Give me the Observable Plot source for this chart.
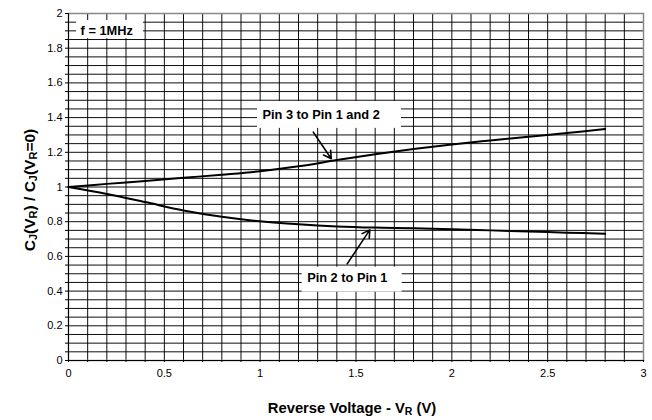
<!DOCTYPE html>
<html>
<head>
<meta charset="utf-8">
<script src="https://cdn.jsdelivr.net/npm/d3@7"></script>
<script src="https://cdn.jsdelivr.net/npm/@observablehq/plot@0.6"></script>
<style>
  html, body { margin: 0; padding: 0; background: #fff; }
  #chart { width: 652px; height: 420px; }
</style>
</head>
<body>
<div id="chart"></div>
<script>
// Data
const voltage = [0, 0.2, 0.4, 0.6, 0.8, 1.0, 1.2, 1.4, 1.6, 1.8, 2.0, 2.2, 2.4, 2.6, 2.8];
const pin3ToPin12 = [1.0, 1.018, 1.035, 1.053, 1.071, 1.091, 1.119, 1.155, 1.189, 1.219, 1.245, 1.268, 1.29, 1.311, 1.334];
const pin2ToPin1 = [1.0, 0.96, 0.913, 0.865, 0.828, 0.802, 0.785, 0.773, 0.766, 0.762, 0.757, 0.75, 0.743, 0.737, 0.73];

const xTickLabels = [0, 0.5, 1, 1.5, 2, 2.5, 3];
const yTickLabels = [0, 0.2, 0.4, 0.6, 0.8, 1, 1.2, 1.4, 1.6, 1.8, 2];
const xGrid = d3.range(1, 30).map(i => i / 10);
const yGrid = d3.range(1, 40).map(i => i / 20);
const xMinor = d3.range(0, 31).map(i => i / 10);
const yMinor = d3.range(0, 41).map(i => i / 20);

// Annotations (data units)
const labelText = ["f = 1MHz", "Pin 3 to Pin 1 and 2", "Pin 2 to Pin 1"];
const labelX = [0.063, 1.012, 1.245];
const labelY = [1.9, 1.416, 0.474];
const boxX1 = [0.042, 0.986, 1.219];
const boxX2 = [0.391, 1.737, 1.741];
const boxY1 = [1.855, 1.338, 0.394];
const boxY2 = [1.96, 1.493, 0.538];
const arrowX1 = [1.277, 1.454];
const arrowY1 = [1.316, 0.557];
const arrowX2 = [1.371, 1.572];
const arrowY2 = [1.163, 0.753];

const series = [
  ...voltage.map((v, i) => ({v, c: pin3ToPin12[i], s: "Pin 3 to Pin 1 and 2"})),
  ...voltage.map((v, i) => ({v, c: pin2ToPin1[i], s: "Pin 2 to Pin 1"}))
];
const labels = labelText.map((t, i) => ({t, x: labelX[i], y: labelY[i], x1: boxX1[i], x2: boxX2[i], y1: boxY1[i], y2: boxY2[i]}));
const arrows = arrowX1.map((x, i) => ({x1: x, y1: arrowY1[i], x2: arrowX2[i], y2: arrowY2[i]}));
const fmt = d3.format("~g");

const plot = Plot.plot({
  width: 652,
  height: 420,
  marginLeft: 68,
  marginRight: 9,
  marginTop: 13,
  marginBottom: 60,
  style: {fontFamily: "'Liberation Sans', Arial, sans-serif", fontSize: "11px", color: "#000", background: "#fff"},
  x: {domain: [0, 3], label: null},
  y: {domain: [0, 2], label: null},
  marks: [
    Plot.ruleX(xGrid, {stroke: "#000", strokeWidth: 1, strokeOpacity: 0.95}),
    Plot.ruleY(yGrid, {stroke: "#000", strokeWidth: 1, strokeOpacity: 0.95}),
    Plot.frame({stroke: "#888", strokeWidth: 1.5}),
    Plot.ruleX([0], {stroke: "#000", strokeWidth: 1}),
    Plot.ruleY([0], {stroke: "#000", strokeWidth: 1}),
    Plot.axisX({ticks: xMinor, tickSize: 2, tickFormat: () => "", label: null}),
    Plot.axisY({ticks: yMinor, tickSize: 3, tickFormat: () => "", label: null}),
    Plot.axisX({ticks: xTickLabels, tickSize: 0, tickPadding: 9, label: null, tickFormat: fmt, fontSize: 11}),
    Plot.axisY({ticks: yTickLabels, tickSize: 0, tickPadding: 6, label: null, tickFormat: fmt, fontSize: 11}),
    Plot.rect(labels, {x1: "x1", x2: "x2", y1: "y1", y2: "y2", fill: "#fff"}),
    Plot.line(series, {x: "v", y: "c", z: "s", stroke: "#000", strokeWidth: 2, curve: "catmull-rom"}),
    Plot.arrow(arrows, {x1: "x1", y1: "y1", x2: "x2", y2: "y2", stroke: "#000", strokeWidth: 1.6, headLength: 8}),
    Plot.text(labels, {x: "x", y: "y", text: "t", textAnchor: "start", fontWeight: "bold", fontSize: 12.8, fill: "#000"})
  ]
});

const svg = d3.select(plot);
const xl = svg.append("text")
  .attr("x", 352).attr("y", 413)
  .attr("text-anchor", "middle")
  .attr("font-weight", "bold").attr("font-size", 14.8)
  .attr("font-family", "'Liberation Sans', Arial, sans-serif");
xl.append("tspan").text("Reverse Voltage - V");
xl.append("tspan").attr("font-size", 10.5).attr("dy", 2).text("R");
xl.append("tspan").attr("dy", -2).text(" (V)");

const yl = svg.append("text")
  .attr("transform", "translate(35,190) rotate(-90)")
  .attr("text-anchor", "middle")
  .attr("font-weight", "bold").attr("font-size", 15.5)
  .attr("font-family", "'Liberation Sans', Arial, sans-serif");
yl.append("tspan").text("C");
yl.append("tspan").attr("font-size", 11).attr("dy", 2).text("J");
yl.append("tspan").attr("dy", -2).text("(V");
yl.append("tspan").attr("font-size", 11).attr("dy", 2).text("R");
yl.append("tspan").attr("dy", -2).text(") / C");
yl.append("tspan").attr("font-size", 11).attr("dy", 2).text("J");
yl.append("tspan").attr("dy", -2).text("(V");
yl.append("tspan").attr("font-size", 11).attr("dy", 2).text("R");
yl.append("tspan").attr("dy", -2).text("=0)");

document.getElementById("chart").append(plot);
</script>
</body>
</html>
